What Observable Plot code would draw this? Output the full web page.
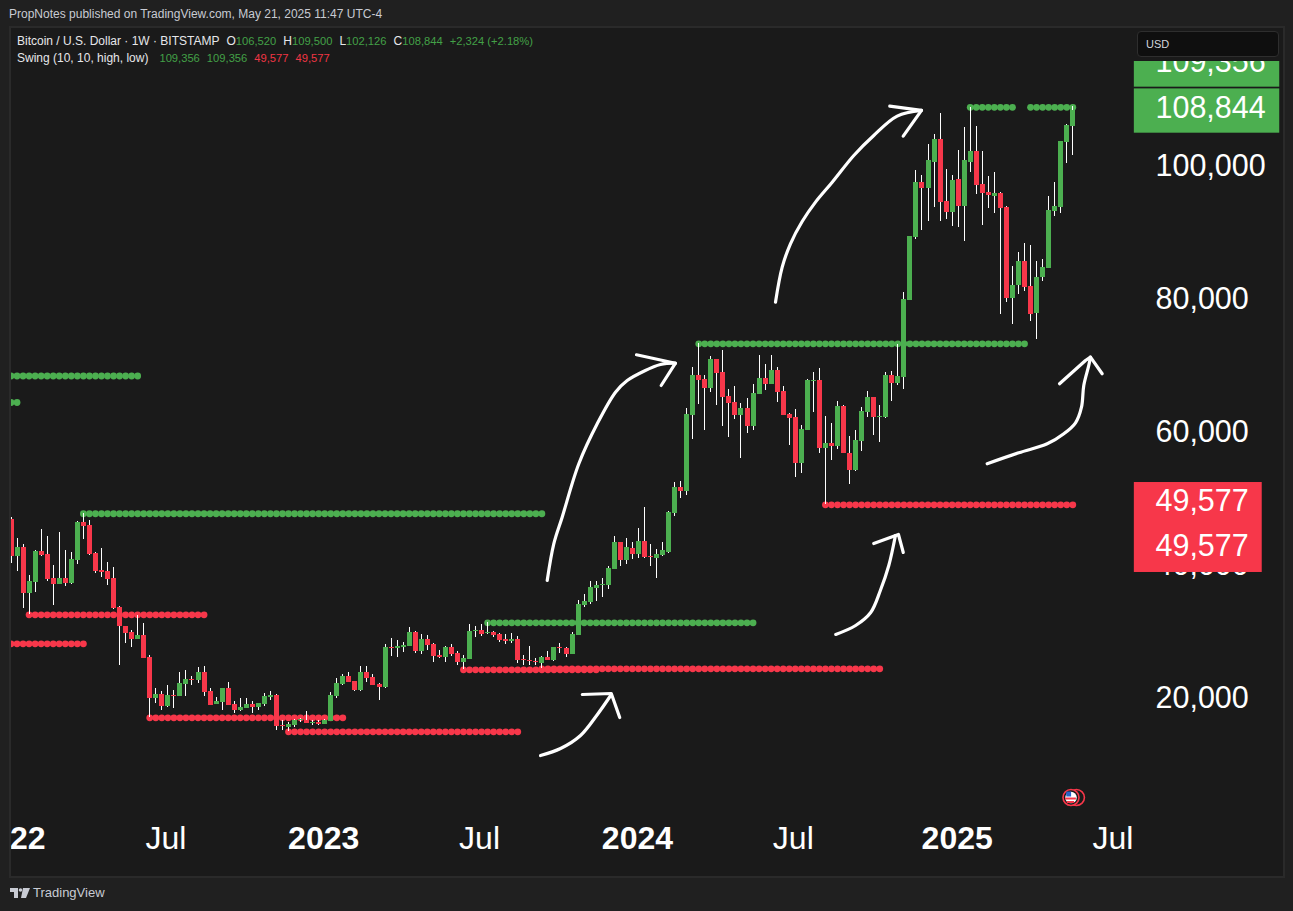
<!DOCTYPE html>
<html><head><meta charset="utf-8">
<script src="https://cdn.jsdelivr.net/npm/d3@7"></script>
<script src="https://cdn.jsdelivr.net/npm/@observablehq/plot@0.6"></script>
<style>
html,body{margin:0;padding:0;background:#202020;width:1293px;height:911px;overflow:hidden;font-family:"Liberation Sans",sans-serif}
#pub{position:absolute;left:9px;top:7px;font-size:12px;color:#c8cbd3;white-space:nowrap}
#pane{position:absolute;left:9px;top:26px;width:1272px;height:848px;background:#1a1a1a;border:2px solid #2a2a2a}
#chart{position:absolute;left:0;top:0}
#legend{position:absolute;left:17px;top:33px;font-size:12px;line-height:17px;color:#e6e7ea;white-space:nowrap}
#legend .g{color:#43a047;font-size:11.2px}#legend .r{color:#f23645;font-size:11.2px}#legend span{margin-right:7px}#legend b{font-weight:400;margin-right:0}
#legend .first{margin-right:11px}
#cover{position:absolute;left:1128px;top:28px;width:153px;height:33px;background:#1a1a1a}
#usd{position:absolute;left:1137px;top:31px;width:132px;height:24px;line-height:24px;padding-left:8px;background:#0f0f0f;border:1px solid #2e2e2e;border-radius:4px;color:#d1d4dc;font-size:11px}
#tv{position:absolute;left:10px;top:885px;color:#c8cbd3;font-size:13px;display:flex;align-items:center;gap:3px}
</style></head><body>
<div id="pane"></div>
<div id="pub">PropNotes published on TradingView.com, May 21, 2025 11:47 UTC-4</div>
<div id="chart"></div>
<div id="legend">
<div><span>Bitcoin / U.S. Dollar · 1W · BITSTAMP</span><span>O<b class="g">106,520</b></span><span>H<b class="g">109,500</b></span><span>L<b class="g">102,126</b></span><span>C<b class="g">108,844</b></span><span class="g">+2,324 (+2.18%)</span></div>
<div><span class="first">Swing (10, 10, high, low)</span><span class="g">109,356</span><span class="g">109,356</span><span class="r">49,577</span><span class="r">49,577</span></div>
</div>
<div id="cover"></div><div id="usd">USD</div>
<div id="tv"><svg width="20" height="12" viewBox="0 0 20 12"><path d="M0 1h8v10H4V5H0z M13 1h7l-4 10h-5z" fill="#c8cbd3"/><circle cx="10.5" cy="3" r="1.8" fill="#c8cbd3"/></svg>TradingView</div>
<script>
const GREEN="#4caf50", RED="#f7374a";
const START=Date.UTC(2022,0,3);
const wk=n=>new Date(START+n*7*864e5);

// weekly candles, first week 3 Jan 2022
const opens=[47370,41860,43160,36290,37900,42560,42110,38500,37600,38500,
37750,41210,46920,46470,42260,39700,39550,38500,34140,31280,
30380,29330,29930,26620,20450,21050,19250,20900,20750,22560,
23310,23160,24360,21500,19550,19850,21960,19550,18650,18950,
19550,19100,19550,20600,20900,16390,16090,16390,17140,17140,
16690,16840,16540,16990,20750,22560,23760,23010,21650,24360,
23610,22560,22110,28120,27970,28120,28270,30380,27520,29330,
28570,26920,26620,28120,27220,25870,26320,30530,30680,30230,
30380,30080,29330,29030,29330,26320,26170,26020,25720,26620,
26170,28120,27970,27070,29930,34440,34890,37000,37450,37450,
39850,43910,41200,43010,42110,44060,41810,41510,41960,42410,
48270,52180,51580,63010,69030,68420,67070,71430,69480,65870,
64970,63010,64060,61360,66170,68570,67670,69780,66620,63160,
62710,55790,60750,68120,68270,58050,58800,58350,64360,57300,
54740,59100,63460,65720,62710,62710,69030,67820,68720,80300,
89780,98050,97150,101060,104520,95190,93540,98500,94440,101060,
102710,97750,96540,95940,96390,94290,80600,82560,86170,82410,
78350,83760,85120,93690,94290,104070,106520];
const highs=[47620,44510,43610,38950,42710,45870,44810,40450,45420,42710,
42410,47070,48270,47220,42410,43010,40910,40150,34290,31280,
30680,32930,31730,26920,21960,21500,22410,21660,24360,24660,
23760,25110,25260,21960,20600,21960,22860,20000,20450,20450,
20000,19700,21200,21500,21050,17140,16840,17290,17440,18500,
17140,17140,17290,21350,23460,24060,24360,23010,25260,25260,
24060,22710,28570,29480,29180,28870,31130,30530,30080,29930,
28720,27670,28270,28570,27520,26920,31580,31280,31580,31880,
30530,30230,30080,30230,29780,26920,28270,26470,26770,27520,
28120,28720,28120,30380,35190,36090,38050,38050,38500,40300,
44820,43910,44510,43910,46020,49180,43610,42860,43910,48580,
52930,53080,64060,70230,73840,69030,71880,71430,72790,66920,
67370,64820,65570,67670,72030,70680,72030,70230,67370,63310,
63910,61510,68420,69480,70080,62860,61810,65120,64510,59850,
60750,64210,66620,65720,64520,69480,69630,73690,81510,89930,
99850,99100,103760,105270,108420,100000,99100,102860,106320,109356,
106470,102710,98950,99550,96540,94440,85420,87520,88880,88570,
86170,86470,95940,98050,104220,106770,109500];
const lows=[40700,39600,34030,33130,36440,41860,38050,34490,37600,37300,
37600,40600,44360,41960,39250,38650,37450,33840,25410,28720,
28120,29330,26470,17590,19700,18650,19100,18950,20750,20750,
22410,22710,20750,19400,19550,18650,19400,18200,18500,18950,
18200,18650,19250,20150,15640,15640,15490,16090,16840,16690,
16390,16390,16540,16990,20450,22410,22860,21500,21500,22860,
22410,20150,21960,26770,26620,27370,28270,27220,27070,27670,
25870,26470,25870,26770,25420,24810,26320,29630,29780,30080,
29630,28870,28570,28720,25720,25420,25420,25420,24960,26170,
26020,27220,26620,27070,29930,34140,34590,35040,35640,36840,
39850,40300,40600,41360,41510,41510,40300,38500,41810,42260,
47820,50530,50980,59400,64660,60750,66470,64520,61360,59700,
62410,56540,60300,60750,66170,66770,67670,64970,63010,58500,
53690,54290,60750,63460,57300,49577,56240,57900,57300,52630,
54590,57600,62710,60000,58950,62560,65120,67520,66920,80300,
89480,90830,92180,94290,92180,92480,91430,91280,89180,99550,
96240,91580,94140,93390,78200,80000,76690,81210,81660,77150,
74440,83160,85120,92940,93390,100910,102126];
const closes=[41860,43160,36290,38050,42560,41960,38350,37600,38500,37750,
41360,46920,46320,42110,39550,39400,38350,33990,31280,30230,
29330,29930,26470,20450,21050,19250,20900,20750,22710,23310,
23160,24360,21350,19400,20000,21960,19400,18650,19100,19550,
19100,19700,20750,20900,16240,16240,16540,17140,17290,16690,
16840,16540,17140,20900,22710,23760,22860,21650,24360,23460,
22410,22110,28120,27970,28270,28420,30380,27520,29330,28420,
26770,26620,28120,27070,25870,26470,30530,30680,30080,30380,
29930,29180,29030,29330,26170,26170,26020,25870,26620,26170,
28120,27970,27070,30080,34590,35040,37150,37450,37600,39960,
43910,41200,43160,42110,44060,41660,41660,42110,42710,48420,
52180,51580,63160,69030,68270,67070,71430,69330,65720,64820,
63010,64060,61360,66320,68570,67670,69780,66470,63010,62560,
55790,60900,68270,68270,58050,58800,58350,64360,57300,54740,
59250,63610,65720,62710,62860,69030,67820,68880,80450,89930,
98050,97150,101360,104520,95040,93540,98350,94440,101360,102710,
97600,96390,96090,96390,94140,80600,82560,86170,82260,78200,
83760,85270,93840,94440,104220,106620,108844];
const candles=opens.map((o,i)=>({date:wk(i),open:o,high:highs[i],low:lows[i],close:closes[i]}));

// swing-level runs: price, first week, last week
const greenSwings=[[68950,0,21],[64960,0,1],[48230,12,88],[31830,79,123],[73790,114,168],[109356,159,166],[109356,169,176]];
const redSwings=[[28680,0,12],[33040,3,32],[17550,23,55],[15440,46,84],[24770,75,97],[24920,88,144],[49577,135,176]];
const runDots=rs=>rs.flatMap(([p,a,b])=>d3.range(a,b+1).map(w=>({date:wk(w),price:p})));

// price axis
const priceTicks=[20000,40000,60000,80000,100000];
// time axis: week number and label
const yearTicks=[[0,"2022"],[52,"2023"],[104,"2024"],[157,"2025"]];
const monthTicks=[[26,"Jul"],[78,"Jul"],[130,"Jul"],[183,"Jul"]];

// last-value chips: label, text price, box top/bottom price, box end week, colour
const chips=[
 ["109,356",116090,116240,112380,210.3,GREEN],
 ["108,844",109250,112120,105460,210.3,GREEN],
];
const redChip=[[52930,39400,207.4]];
const redLabels=[["49,577",50080],["49,577",43310]];

// hand-drawn arrows: week, price
const arrowShafts=[
 [[87.77,11880],[91.09,12930],[94.4,14890],[97.2,18050],[99.4,20900]],
 [[88.88,38200],[89.97,43720],[91.36,47720],[94.12,55750],[97.17,61760],[100.2,66510],[102.14,68270],[104.89,69670],[107.66,70680],[110.14,70870]],
 [[136.7,30080],[140,31430],[142.5,33380],[144.1,36690],[145.5,40450],[146.6,44960]],
 [[126.72,80050],[127.83,85310],[129.2,88830],[131.14,92180],[133.35,95090],[136.12,98090],[139.7,102110],[143.01,105120],[146.89,108020],[150.92,108880]],
 [[161.81,55750],[167.05,57400],[171.76,58750],[174.51,60260],[176.45,61910],[177.44,64260],[177.82,67520],[178.65,70530],[178.93,71780]]
];
const arrowHeads=[
 [[94.7,21050],[99.5,21200],[100.9,17590]],
 [[103.68,72140],[110.14,70870],[107.77,67520]],
 [[143,43760],[147.1,45110],[147.9,42410]],
 [[145.66,109520],[150.92,108880],[147.89,105010]],
 [[173.8,67780],[178.1,71280],[178.93,71780],[180.87,69280]]
];
const pts=a=>a.flatMap((l,id)=>l.map(([w,p])=>({date:wk(w),price:p,id})));

// economic-event badge: US flag
const badgePrice=5560;
const flagStripes=[[174.8,176.6,5410],[175.1,176.3,4890]];
const flagCanton=[[175.0,175.8,6390,5640]];

const clip=true;
const plot=Plot.plot({
 width:1293,height:911,
 marginLeft:11,marginRight:150,marginTop:28,marginBottom:36,
 style:{background:"transparent",color:"#fff",overflow:"visible"},
 x:{type:"utc",domain:[wk(0),wk(176)],range:[10.5,1072.3],axis:null},
 y:{type:"linear",domain:[0,120000],range:[834,36],axis:null},
 marks:[
  Plot.dot(runDots(greenSwings),{x:"date",y:"price",r:3.4,fill:GREEN,clip}),
  Plot.dot(runDots(redSwings),{x:"date",y:"price",r:3.4,fill:RED,clip}),
  Plot.ruleX(candles,{x:"date",y1:"low",y2:"high",stroke:"#fff",strokeWidth:1,shapeRendering:"crispEdges",clip}),
  Plot.ruleX(candles.filter(d=>d.close>=d.open),{x:"date",y1:"open",y2:"close",stroke:GREEN,strokeWidth:5,shapeRendering:"crispEdges",clip}),
  Plot.ruleX(candles.filter(d=>d.close<d.open),{x:"date",y1:"open",y2:"close",stroke:RED,strokeWidth:5,shapeRendering:"crispEdges",clip}),
  Plot.line(pts(arrowShafts),{x:"date",y:"price",z:"id",stroke:"#fff",strokeWidth:3.2,curve:"catmull-rom",clip}),
  Plot.line(pts(arrowHeads),{x:"date",y:"price",z:"id",stroke:"#fff",strokeWidth:3.2,curve:"linear",clip}),
  Plot.dot([176.6],{x:d=>wk(d),y:()=>badgePrice,r:8,stroke:RED,strokeWidth:1.6,fill:"#1a1a1a",clip}),
  Plot.dot([175.7],{x:d=>wk(d),y:()=>badgePrice,r:8,stroke:RED,strokeWidth:1.6,fill:"#1a1a1a",clip}),
  Plot.dot([175.7],{x:d=>wk(d),y:()=>badgePrice,r:5.8,fill:"#fff",clip}),
  Plot.ruleY(flagStripes,{x1:d=>wk(d[0]),x2:d=>wk(d[1]),y:d=>d[2],stroke:RED,strokeWidth:2,clip}),
  Plot.rect(flagCanton,{x1:d=>wk(d[0]),x2:d=>wk(d[1]),y1:d=>d[2],y2:d=>d[3],fill:"#2a63c8",clip}),
  Plot.text(yearTicks,{x:d=>wk(d[0]),text:d=>d[1],frameAnchor:"bottom",dy:-27,dx:-1,fontSize:32,fontWeight:700,fill:"#fff",fontFamily:"Liberation Sans",clip}),
  Plot.text(monthTicks,{x:d=>wk(d[0]),text:d=>d[1],frameAnchor:"bottom",dy:-27,dx:-2,fontSize:32,fill:"#fff",fontFamily:"Liberation Sans",clip}),
  Plot.axisY({anchor:"right",ticks:priceTicks,tickSize:0,tickPadding:12,tickFormat:d3.format(","),fontSize:30.5,fontFamily:"Liberation Sans",fill:"#fff",dy:-3,textAnchor:"start"}),
  Plot.rect(chips,{x1:()=>wk(186.2),x2:d=>wk(d[4]),y1:d=>d[2],y2:d=>d[3],fill:d=>d[5]}),
  Plot.rect(redChip,{x1:()=>wk(186.2),x2:d=>wk(d[2]),y1:d=>d[0],y2:d=>d[1],fill:RED}),
  Plot.text(chips,{x:()=>wk(189.7),y:d=>d[1],text:d=>d[0],textAnchor:"start",fontSize:30.5,fill:"#fff",fontFamily:"Liberation Sans"}),
  Plot.text(redLabels,{x:()=>wk(189.7),y:d=>d[1],text:d=>d[0],textAnchor:"start",fontSize:30.5,fill:"#fff",fontFamily:"Liberation Sans"})
 ]
});
document.getElementById("chart").appendChild(plot);
</script>
</body></html>
